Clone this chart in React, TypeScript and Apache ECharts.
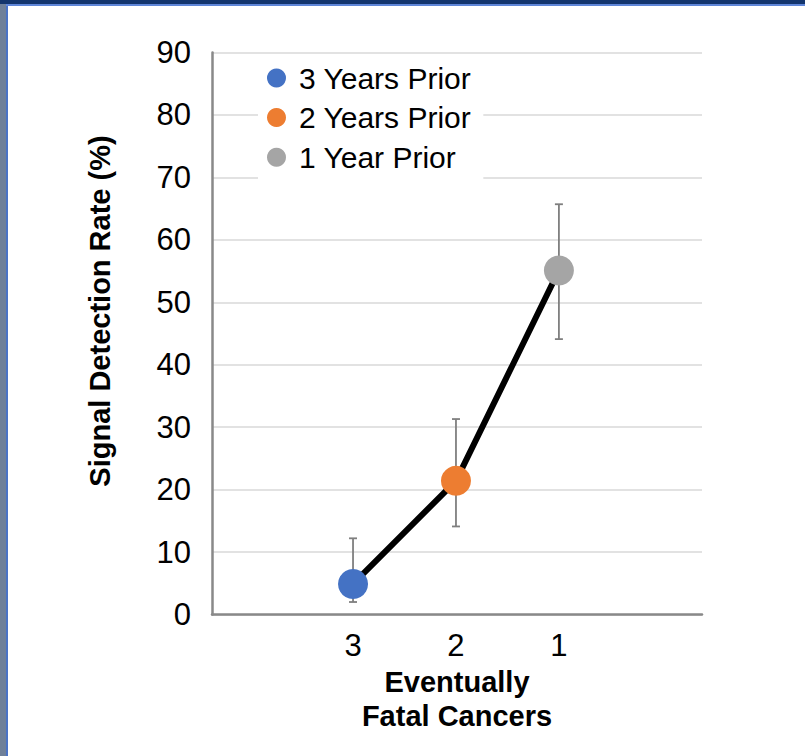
import React, { useEffect, useRef } from "react";
import * as echarts from "echarts";

const categories = [3, 2, 1];
const xTickLabels = ["3", "2", "1"];
const seriesNames = ["3 Years Prior", "2 Years Prior", "1 Year Prior"];
const seriesColors = ["#4472C4", "#ED7D31", "#A5A5A5"];
const rates = [4.9, 21.4, 55.1];
const errLow = [2.0, 14.1, 44.1];
const errHigh = [12.2, 31.3, 65.7];
const yTicks = [0, 10, 20, 30, 40, 50, 60, 70, 80, 90];

const FONT = 'Arial, "Liberation Sans", sans-serif';

export default function App() {
  const ref = useRef<HTMLDivElement>(null);

  useEffect(() => {
    document.body.style.margin = "0";
    const chart = echarts.init(ref.current as HTMLDivElement, undefined, { renderer: "svg" });

    const scatterSeries = seriesNames.map((name, i) => ({
      name,
      type: "scatter",
      data: [[categories[i], rates[i]]],
      symbol: "circle",
      symbolSize: 30,
      itemStyle: { color: seriesColors[i], opacity: 1 },
      z: 5,
    }));

    const option = {
      animation: false,
      backgroundColor: "#ffffff",
      textStyle: { fontFamily: FONT },
      grid: { left: 212, right: 103, top: 52.5, bottom: 141.5, containLabel: false },
      xAxis: {
        type: "value",
        inverse: true,
        min: -0.39,
        max: 4.37,
        splitLine: { show: false },
        axisTick: { show: false },
        axisLine: { show: true, onZero: false, lineStyle: { color: "#898989", width: 2.5 } },
        axisLabel: {
          customValues: categories,
          formatter: (v: number) => xTickLabels[categories.indexOf(v)] ?? "",
          fontSize: 31,
          color: "#000000",
          fontFamily: FONT,
          margin: 15,
        },
        name: "Eventually\nFatal Cancers",
        nameLocation: "middle",
        nameGap: 47,
        nameTextStyle: {
          fontSize: 29,
          fontWeight: "bold",
          color: "#000000",
          lineHeight: 34,
          fontFamily: FONT,
        },
      },
      yAxis: {
        type: "value",
        min: yTicks[0],
        max: yTicks[yTicks.length - 1],
        interval: 10,
        axisLine: { show: true, onZero: false, lineStyle: { color: "#898989", width: 2.5 } },
        axisTick: { show: false },
        splitLine: { show: true, lineStyle: { color: "#d9d9d9", width: 1.5 } },
        axisLabel: {
          fontSize: 31,
          color: "#000000",
          margin: 21,
          fontFamily: FONT,
          padding: [0, 0, 8, 0],
        },
      },
      legend: {
        data: seriesNames,
        orient: "vertical",
        left: 258,
        top: 54,
        padding: [9, 12, 9, 9],
        itemGap: 9.6,
        itemWidth: 19,
        itemHeight: 19,
        icon: "circle",
        backgroundColor: "#ffffff",
        textStyle: {
          fontSize: 30,
          lineHeight: 30,
          color: "#000000",
          fontFamily: FONT,
          padding: [0, 0, 0, 8],
        },
      },
      graphic: [
        {
          type: "text",
          x: 100,
          y: 311,
          rotation: Math.PI / 2,
          style: {
            text: "Signal Detection Rate (%)",
            fontSize: 29,
            fontWeight: "bold",
            fill: "#000000",
            fontFamily: FONT,
            align: "center",
            verticalAlign: "middle",
          },
        },
        { type: "rect", shape: { x: 0, y: 0, width: 6, height: 756 }, style: { fill: "#6f8099" }, z: 100 },
        { type: "rect", shape: { x: 6, y: 4, width: 2, height: 752 }, style: { fill: "#4b74c6" }, z: 100 },
        { type: "rect", shape: { x: 0, y: 0, width: 805, height: 4 }, style: { fill: "#13356d" }, z: 101 },
        { type: "rect", shape: { x: 6, y: 4, width: 799, height: 2 }, style: { fill: "#5f86d8" }, z: 101 },
      ],
      series: [
        {
          name: "errorBars",
          type: "custom",
          data: categories.map((c, i) => [c, errLow[i], errHigh[i]]),
          encode: { x: 0, y: [1, 2] },
          z: 2,
          renderItem: (params: any, api: any) => {
            const x = api.value(0);
            const lo = api.coord([x, api.value(1)]);
            const hi = api.coord([x, api.value(2)]);
            const w = 4;
            const style = { stroke: "#7f7f7f", lineWidth: 1.8 };
            return {
              type: "group",
              children: [
                { type: "line", shape: { x1: lo[0], y1: lo[1], x2: hi[0], y2: hi[1] }, style },
                { type: "line", shape: { x1: lo[0] - w, y1: lo[1], x2: lo[0] + w, y2: lo[1] }, style },
                { type: "line", shape: { x1: hi[0] - w, y1: hi[1], x2: hi[0] + w, y2: hi[1] }, style },
              ],
            };
          },
        },
        {
          name: "trend",
          type: "line",
          data: categories.map((c, i) => [c, rates[i]]),
          showSymbol: false,
          symbol: "none",
          lineStyle: { color: "#000000", width: 6 },
          z: 3,
        },
        ...scatterSeries,
      ],
    };

    chart.setOption(option as any);
    return () => chart.dispose();
  }, []);

  return <div ref={ref} style={{ width: 805, height: 756 }} />;
}
